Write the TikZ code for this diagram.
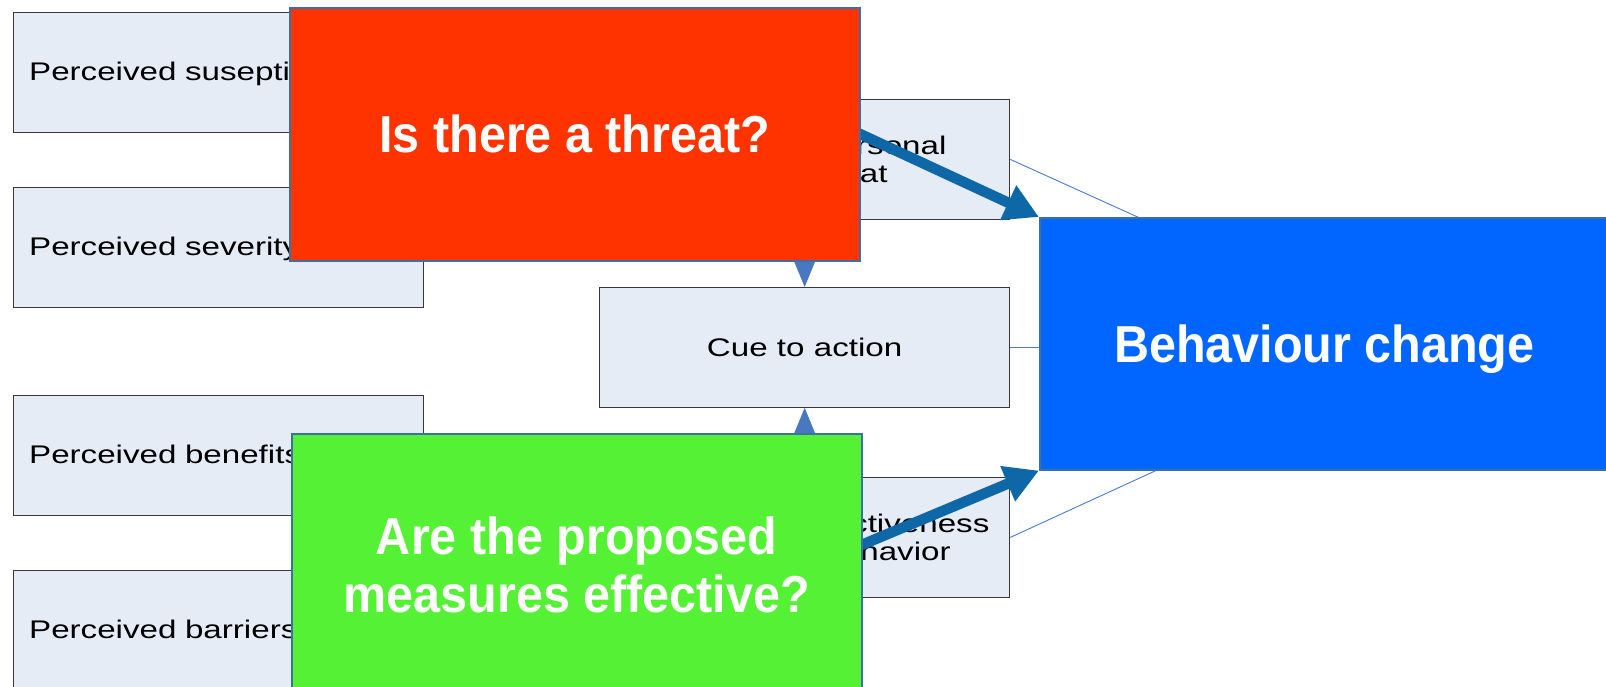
\documentclass[tikz,border=0pt]{standalone}
\usepackage{fontspec}
\usetikzlibrary{arrows.meta,calc}
\newfontfamily\boxfont[FakeStretch=1.30]{Liberation Sans}
\newfontfamily\bigfont[FakeStretch=0.933]{Liberation Sans}
\definecolor{boxfill}{HTML}{E6ECF6}
\definecolor{boxline}{HTML}{383838}
\definecolor{redq}{HTML}{FF3300}
\definecolor{greenq}{HTML}{55F135}
\definecolor{bluebc}{HTML}{0066FF}
\definecolor{qedge}{HTML}{3A70A8}
\definecolor{thickc}{HTML}{0E68A8}
\definecolor{tric}{HTML}{4A78C0}
\definecolor{thinc}{HTML}{4A7CD0}
\begin{document}
\begin{tikzpicture}[x=1pt,y=-1pt,
  lbox/.style={draw=boxline, line width=1.3pt, fill=boxfill, minimum width=410pt,
    minimum height=120pt, anchor=north west, inner xsep=15.5pt, inner ysep=0pt,
    text width=379pt, align=left, font=\boxfont\fontsize{25.5}{28}\selectfont,
    text height=18.5pt, text depth=3.5pt},
  mbox/.style={draw=boxline, line width=1.3pt, fill=boxfill, minimum width=410pt,
    minimum height=119.5pt, anchor=north west, inner sep=0pt, align=center,
    font=\boxfont\fontsize{25.5}{28}\selectfont},
  qbox/.style={draw=qedge, line width=1.6pt, minimum width=570pt, anchor=north west,
    inner sep=0pt, align=center, text=white,
    font=\bigfont\bfseries\fontsize{52}{58}\selectfont},
  thinline/.style={draw=thinc, line width=0.9pt},
  triarrow/.style={draw=tric, fill=tric, line width=1pt, -{Triangle[length=27pt,width=22pt]}},
  thickarrow/.style={draw=thickc, line width=10.5pt, -{Triangle[length=34pt,width=36pt]}}
]
\useasboundingbox (0,0) rectangle (1606,686);
\clip (0,0) rectangle (1606,686);
\fill[white] (0,0) rectangle (1606,686);

% left boxes
\node[lbox] (sus) at (13,12) {Perceived suseptibility};
\node[lbox] (sev) at (13,187) {Perceived severity};
\node[lbox] (ben) at (13,395) {Perceived benefits};
\node[lbox] (bar) at (13,570) {Perceived barriers};

% middle boxes
\node[mbox] (threat) at (599,99) {Perceived personal\\\hspace*{81pt}threat};
\node[mbox, text height=18.5pt, text depth=0pt] (cue) at (599,287) {Cue to action};
\node[mbox] (effect) at (599,477) {\hspace*{20pt}Perceived effectiveness\\\hspace*{128pt}of behavior};

% thin connectors to behaviour change
\coordinate (hub) at (1425,347);
\draw[thinline] (threat.east) -- (hub);
\draw[thinline] (effect.east) -- (hub);
\draw[thinline] (cue.east) -- (cue.east -| 1045,0);

% small arrows into cue
\draw[triarrow] (threat.south) -- (cue.north);
\draw[triarrow] (effect.north) -- (cue.south);

% behaviour change
\node[qbox, fill=bluebc, minimum width=569pt, minimum height=252pt,
  text height=37.2pt, text depth=0pt] (change) at (1039,217) {Behaviour change};

% thick arrows
\coordinate (a1) at (760,87.6);
\coordinate (a2) at (760,587.5);
\draw[thickarrow] (a1) -- (change.north west);
\draw[thickarrow] (a2) -- (change.south west);

% question boxes
\node[qbox, fill=redq, minimum height=253pt, text height=37.2pt, text depth=0pt]
  (q1) at (289,7) {Is there a threat?};
\node[qbox, fill=greenq, minimum height=262pt] (q2) at (291,433)
  {Are the proposed\\measures effective?};
\end{tikzpicture}
\end{document}
